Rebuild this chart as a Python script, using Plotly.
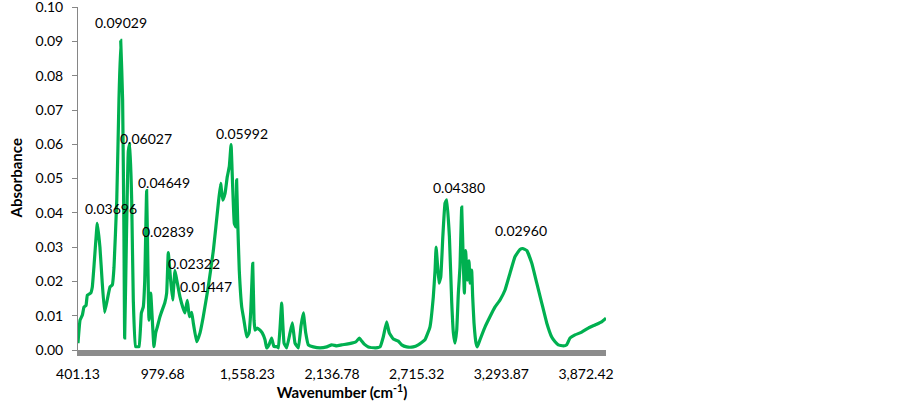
import plotly.graph_objects as go

# FTIR spectrum
wavenumber = [
    401, 415, 431, 442, 456, 465, 488, 499, 510, 533,
    551, 567, 583, 601, 620, 636, 647, 666, 681, 693,
    706, 715, 720, 733, 745, 756, 768, 779, 795, 818,
    834, 847, 857, 870, 879, 886, 898, 909, 920, 932,
    943, 961, 977, 994, 1007, 1018, 1035, 1048, 1064, 1080,
    1098, 1117, 1132, 1148, 1162, 1178, 1189, 1212, 1235, 1257,
    1291, 1326, 1360, 1376, 1390, 1406, 1421, 1435, 1447, 1458,
    1469, 1479, 1485, 1492, 1503, 1520, 1535, 1554, 1570, 1581,
    1595, 1604, 1611, 1626, 1645, 1660, 1679, 1690, 1706, 1724,
    1740, 1759, 1770, 1781, 1793, 1809, 1827, 1850, 1866, 1884,
    1907, 1925, 1941, 1957, 1975, 2009, 2055, 2101, 2135, 2169,
    2203, 2237, 2271, 2301, 2323, 2340, 2357, 2385, 2430, 2465,
    2487, 2510, 2528, 2556, 2590, 2613, 2647, 2692, 2726, 2772,
    2806, 2829, 2841, 2848, 2857, 2868, 2880, 2894, 2909, 2921,
    2939, 2955, 2966, 2977, 2989, 3000, 3011, 3023, 3034, 3041,
    3050, 3061, 3073, 3080, 3091, 3098, 3107, 3121, 3130, 3148,
    3182, 3216, 3250, 3285, 3319, 3353, 3387, 3421, 3440, 3468,
    3502, 3536, 3570, 3604, 3638, 3661, 3683, 3717, 3740, 3763,
    3797, 3843, 3888, 3934, 3979, 4009,
]
absorbance = [
    0.0020, 0.0087, 0.0102, 0.0125, 0.0130, 0.0160, 0.0166, 0.0184, 0.0242, 0.03696,
    0.0300, 0.0195, 0.0110, 0.0146, 0.0184, 0.0190, 0.0240, 0.0437, 0.0730, 0.09029,
    0.0730, 0.0341, 0.0035, 0.0350, 0.0580, 0.06027, 0.0437, 0.0146, 0.0010, 0.0010,
    0.0108, 0.0125, 0.0200, 0.04649, 0.0242, 0.0087, 0.0166, 0.0087, 0.0010, 0.0050,
    0.0067, 0.0097, 0.0117, 0.0137, 0.0166, 0.02839, 0.0200, 0.0146, 0.02322, 0.0195,
    0.0155, 0.0125, 0.0108, 0.01447, 0.0097, 0.0110, 0.0079, 0.0024, 0.0050, 0.0097,
    0.0184, 0.0290, 0.0428, 0.0486, 0.0437, 0.0457, 0.0505, 0.0535, 0.05992, 0.0476,
    0.0370, 0.0359, 0.0496, 0.0380, 0.0233, 0.0125, 0.0087, 0.0038, 0.0050, 0.0108,
    0.0253, 0.0087, 0.0058, 0.0064, 0.0058, 0.0050, 0.0030, 0.0006, 0.0015, 0.0035,
    0.0010, 0.0010, 0.0006, 0.0060, 0.0137, 0.0020, 0.0006, 0.0050, 0.0079, 0.0020,
    0.0006, 0.0070, 0.0108, 0.0050, 0.0015, 0.0009, 0.0006, 0.0009, 0.0015, 0.0012,
    0.0015, 0.0017, 0.0020, 0.0024, 0.0035, 0.0026, 0.0017, 0.0009, 0.0006, 0.0009,
    0.0038, 0.0082, 0.0050, 0.0032, 0.0026, 0.0015, 0.0009, 0.0009, 0.0015, 0.0030,
    0.0067, 0.0155, 0.0233, 0.0300, 0.0253, 0.0195, 0.0213, 0.0330, 0.0428, 0.04380,
    0.0330, 0.0137, 0.0050, 0.0020, 0.0058, 0.0166, 0.0240, 0.0417, 0.0253, 0.0166,
    0.0290, 0.0204, 0.0260, 0.0195, 0.0233, 0.0155, 0.0079, 0.0020, 0.0009, 0.0030,
    0.0067, 0.0097, 0.0125, 0.0146, 0.0175, 0.0224, 0.0272, 0.0293, 0.02960, 0.0290,
    0.0253, 0.0195, 0.0137, 0.0079, 0.0038, 0.0024, 0.0015, 0.0012, 0.0015, 0.0035,
    0.0044, 0.0052, 0.0064, 0.0073, 0.0082, 0.0093,
]

# labelled peaks
peak_wn = [533, 693, 756, 870, 1018, 1064, 1148, 1447, 2921, 3440]
peak_val = [0.03696, 0.09029, 0.06027, 0.04649, 0.02839, 0.02322, 0.01447, 0.05992, 0.04380, 0.02960]

x_ticks = [401.13, 979.68, 1558.23, 2136.78, 2715.32, 3293.87, 3872.42]
y_ticks = [0.00, 0.01, 0.02, 0.03, 0.04, 0.05, 0.06, 0.07, 0.08, 0.09, 0.10]

GREEN = '#00B050'
GREY = '#868686'
FONT = 'Lato, Calibri, sans-serif'

fig = go.Figure()

fig.add_trace(
    go.Scatter(
        x=wavenumber, y=absorbance,
        mode='lines',
        line=dict(color=GREEN, width=3.2, shape='spline', smoothing=0.3),
        showlegend=False,
        hoverinfo='x+y',
    )
)

# data labels (Excel style, nudged off the peak)
label_shift = [(14, 15), (0, 18), (16, 5), (17, 8), (0, 21),
               (19, 7), (19, 14), (11, 11), (12, 12), (-2, 18)]
for wn, val, (dx, dy) in zip(peak_wn, peak_val, label_shift):
    fig.add_annotation(
        x=wn, y=val, text=f"{val:.5f}",
        showarrow=False, xshift=dx, yshift=dy,
        font=dict(family=FONT, size=14, color='black'),
    )

# y title as an annotation so it can sit further left than standoff allows
fig.add_annotation(
    xref='paper', yref='paper', x=0, y=0.5, xshift=-63,
    xanchor='center', yanchor='middle',
    text='<b>Absorbance</b>', textangle=-90, showarrow=False,
    font=dict(family=FONT, size=15, color='black'),
)

fig.update_layout(
    width=903, height=403,
    paper_bgcolor='white', plot_bgcolor='white',
    margin=dict(l=78, r=297, t=7, b=53),
    font=dict(family=FONT, size=14, color='black'),
    xaxis=dict(
        range=[401.13, 4009],
        tickvals=x_ticks,
        ticktext=[f"{v:,.2f}" for v in x_ticks],
        showgrid=False, zeroline=False,
        showline=True, linecolor='#8c8c8c', linewidth=6,
        ticks='', ticklabelstandoff=6,
        automargin=False,
        title=dict(text='<b>Wavenumber (cm<sup>-1</sup>)</b>', standoff=0,
                   font=dict(family=FONT, size=15)),
    ),
    yaxis=dict(
        range=[0, 0.10005],
        tickvals=y_ticks,
        ticktext=[f"{v:.2f}" for v in y_ticks],
        showgrid=False, zeroline=False,
        showline=True, linecolor=GREY, linewidth=1,
        ticks='outside', ticklen=5, tickcolor=GREY,
        ticklabelstandoff=6, ticklabeloverflow='allow',
        automargin=False,
    ),
)

# page body margin would push the figure 8px down/right
fig.write_html(
    "out.html",
    config={'displayModeBar': False},
    post_script="document.body.style.margin='0';",
)
